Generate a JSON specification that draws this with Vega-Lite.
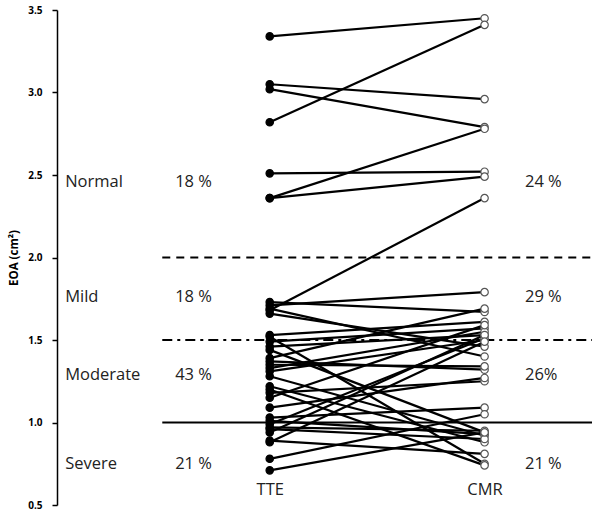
{
  "$schema": "https://vega.github.io/schema/vega-lite/v6.json",
  "width": 535,
  "height": 495,
  "autosize": "none",
  "padding": {"left": 57, "top": 10, "right": 8, "bottom": 16},
  "background": "white",
  "config": {"view": {"stroke": null}, "font": "Open Sans"},
  "datasets": {
    "pairs": [
      {"id":1,"method":"TTE","visit":1,"eoa":3.34},{"id":1,"method":"CMR","visit":2,"eoa":3.45},
      {"id":2,"method":"TTE","visit":1,"eoa":2.82},{"id":2,"method":"CMR","visit":2,"eoa":3.41},
      {"id":3,"method":"TTE","visit":1,"eoa":3.05},{"id":3,"method":"CMR","visit":2,"eoa":2.96},
      {"id":4,"method":"TTE","visit":1,"eoa":3.02},{"id":4,"method":"CMR","visit":2,"eoa":2.79},
      {"id":5,"method":"TTE","visit":1,"eoa":2.36},{"id":5,"method":"CMR","visit":2,"eoa":2.78},
      {"id":6,"method":"TTE","visit":1,"eoa":2.51},{"id":6,"method":"CMR","visit":2,"eoa":2.52},
      {"id":7,"method":"TTE","visit":1,"eoa":2.36},{"id":7,"method":"CMR","visit":2,"eoa":2.49},
      {"id":8,"method":"TTE","visit":1,"eoa":1.68},{"id":8,"method":"CMR","visit":2,"eoa":2.36},
      {"id":9,"method":"TTE","visit":1,"eoa":1.71},{"id":9,"method":"CMR","visit":2,"eoa":1.79},
      {"id":10,"method":"TTE","visit":1,"eoa":1.73},{"id":10,"method":"CMR","visit":2,"eoa":1.67},
      {"id":11,"method":"TTE","visit":1,"eoa":1.69},{"id":11,"method":"CMR","visit":2,"eoa":1.40},
      {"id":12,"method":"TTE","visit":1,"eoa":1.66},{"id":12,"method":"CMR","visit":2,"eoa":1.46},
      {"id":13,"method":"TTE","visit":1,"eoa":1.53},{"id":13,"method":"CMR","visit":2,"eoa":1.61},
      {"id":14,"method":"TTE","visit":1,"eoa":1.52},{"id":14,"method":"CMR","visit":2,"eoa":0.75},
      {"id":15,"method":"TTE","visit":1,"eoa":1.49},{"id":15,"method":"CMR","visit":2,"eoa":1.57},
      {"id":16,"method":"TTE","visit":1,"eoa":1.46},{"id":16,"method":"CMR","visit":2,"eoa":1.53},
      {"id":17,"method":"TTE","visit":1,"eoa":1.44},{"id":17,"method":"CMR","visit":2,"eoa":0.94},
      {"id":18,"method":"TTE","visit":1,"eoa":1.39},{"id":18,"method":"CMR","visit":2,"eoa":1.69},
      {"id":19,"method":"TTE","visit":1,"eoa":1.37},{"id":19,"method":"CMR","visit":2,"eoa":1.32},
      {"id":20,"method":"TTE","visit":1,"eoa":1.35},{"id":20,"method":"CMR","visit":2,"eoa":1.34},
      {"id":21,"method":"TTE","visit":1,"eoa":1.33},{"id":21,"method":"CMR","visit":2,"eoa":1.55},
      {"id":22,"method":"TTE","visit":1,"eoa":1.31},{"id":22,"method":"CMR","visit":2,"eoa":1.50},
      {"id":23,"method":"TTE","visit":1,"eoa":1.28},{"id":23,"method":"CMR","visit":2,"eoa":0.92},
      {"id":24,"method":"TTE","visit":1,"eoa":1.22},{"id":24,"method":"CMR","visit":2,"eoa":0.88},
      {"id":25,"method":"TTE","visit":1,"eoa":1.20},{"id":25,"method":"CMR","visit":2,"eoa":0.74},
      {"id":26,"method":"TTE","visit":1,"eoa":1.18},{"id":26,"method":"CMR","visit":2,"eoa":1.25},
      {"id":27,"method":"TTE","visit":1,"eoa":1.15},{"id":27,"method":"CMR","visit":2,"eoa":1.59},
      {"id":28,"method":"TTE","visit":1,"eoa":1.09},{"id":28,"method":"CMR","visit":2,"eoa":1.27},
      {"id":29,"method":"TTE","visit":1,"eoa":1.03},{"id":29,"method":"CMR","visit":2,"eoa":1.09},
      {"id":30,"method":"TTE","visit":1,"eoa":1.01},{"id":30,"method":"CMR","visit":2,"eoa":0.93},
      {"id":31,"method":"TTE","visit":1,"eoa":0.99},{"id":31,"method":"CMR","visit":2,"eoa":1.51},
      {"id":32,"method":"TTE","visit":1,"eoa":0.97},{"id":32,"method":"CMR","visit":2,"eoa":0.95},
      {"id":33,"method":"TTE","visit":1,"eoa":0.96},{"id":33,"method":"CMR","visit":2,"eoa":0.90},
      {"id":34,"method":"TTE","visit":1,"eoa":0.94},{"id":34,"method":"CMR","visit":2,"eoa":1.53},
      {"id":35,"method":"TTE","visit":1,"eoa":0.89},{"id":35,"method":"CMR","visit":2,"eoa":0.81},
      {"id":36,"method":"TTE","visit":1,"eoa":0.88},{"id":36,"method":"CMR","visit":2,"eoa":1.49},
      {"id":37,"method":"TTE","visit":1,"eoa":0.78},{"id":37,"method":"CMR","visit":2,"eoa":1.05},
      {"id":38,"method":"TTE","visit":1,"eoa":0.71},{"id":38,"method":"CMR","visit":2,"eoa":0.94}
    ],
    "grades": [
      {"grade":"Normal","tte":"18 %","cmr":"24 %","ylab":2.46},
      {"grade":"Mild","tte":"18 %","cmr":"29 %","ylab":1.76},
      {"grade":"Moderate","tte":"43 %","cmr":"26%","ylab":1.285},
      {"grade":"Severe","tte":"21 %","cmr":"21 %","ylab":0.75}
    ],
    "cutoffs": [
      {"cut":2.0,"kind":"dashed"},
      {"cut":1.5,"kind":"dashdot"},
      {"cut":1.0,"kind":"solid"}
    ]
  },
  "layer": [
    {
      "data": {"name": "cutoffs"},
      "mark": {"type": "rule", "color": "black", "strokeWidth": 2.2},
      "encoding": {
        "y": {"field": "cut", "type": "quantitative"},
        "x": {"datum": 0.5, "type": "quantitative"},
        "x2": {"datum": 2.5},
        "strokeDash": {"field": "kind", "type": "nominal", "legend": null,
          "scale": {"domain": ["dashed","dashdot","solid"], "range": [[8,6],[10,5,3,5],[1,0]]}}
      }
    },
    {
      "data": {"name": "pairs"},
      "mark": {"type": "line", "color": "black", "strokeWidth": 2.2},
      "encoding": {
        "x": {"field": "visit", "type": "quantitative",
          "scale": {"domain": [0.01, 2.5], "nice": false, "zero": false},
          "axis": {"values": [1, 2], "labelExpr": "datum.value == 1 ? 'TTE' : 'CMR'", "title": null,
            "domain": false, "ticks": false, "grid": false, "labelFontSize": 16.5, "labelColor": "#222",
            "labelPadding": -24, "labelFont": "Open Sans"}},
        "y": {"field": "eoa", "type": "quantitative",
          "scale": {"domain": [0.5, 3.5], "nice": false, "zero": false},
          "axis": {"values": [0.5, 1.0, 1.5, 2.0, 2.5, 3.0, 3.5], "format": ".1f", "grid": false,
            "title": "EOA (cm²)", "titleFontSize": 11.5, "titleFontWeight": "bold", "titleColor": "black",
            "titlePadding": 8, "labelFontSize": 10, "labelFontWeight": "bold", "labelColor": "black",
            "labelPadding": 10, "tickSize": 5, "tickColor": "black", "domainColor": "black",
            "domainWidth": 1.5, "tickWidth": 1.5, "labelFont": "Open Sans", "titleFont": "Open Sans"}},
        "detail": {"field": "id", "type": "nominal"}
      }
    },
    {
      "data": {"name": "pairs"},
      "mark": {"type": "point", "shape": "circle", "size": 55, "stroke": "black", "strokeWidth": 1.2, "filled": false, "opacity": 1},
      "encoding": {
        "x": {"field": "visit", "type": "quantitative"},
        "y": {"field": "eoa", "type": "quantitative"},
        "fill": {"field": "method", "type": "nominal", "legend": null,
          "scale": {"domain": ["TTE", "CMR"], "range": ["black", "white"]}},
        "stroke": {"field": "method", "type": "nominal", "legend": null,
          "scale": {"domain": ["TTE", "CMR"], "range": ["black", "#555"]}}
      }
    },
    {
      "data": {"name": "grades"},
      "mark": {"type": "text", "align": "left", "baseline": "middle", "fontSize": 16.5, "color": "#222"},
      "encoding": {
        "x": {"datum": 0.048, "type": "quantitative"},
        "y": {"field": "ylab", "type": "quantitative"},
        "text": {"field": "grade"}
      }
    },
    {
      "data": {"name": "grades"},
      "mark": {"type": "text", "align": "left", "baseline": "middle", "fontSize": 16.5, "color": "#222"},
      "encoding": {
        "x": {"datum": 0.56, "type": "quantitative"},
        "y": {"field": "ylab", "type": "quantitative"},
        "text": {"field": "tte"}
      }
    },
    {
      "data": {"name": "grades"},
      "mark": {"type": "text", "align": "left", "baseline": "middle", "fontSize": 16.5, "color": "#222"},
      "encoding": {
        "x": {"datum": 2.188, "type": "quantitative"},
        "y": {"field": "ylab", "type": "quantitative"},
        "text": {"field": "cmr"}
      }
    }
  ]
}
